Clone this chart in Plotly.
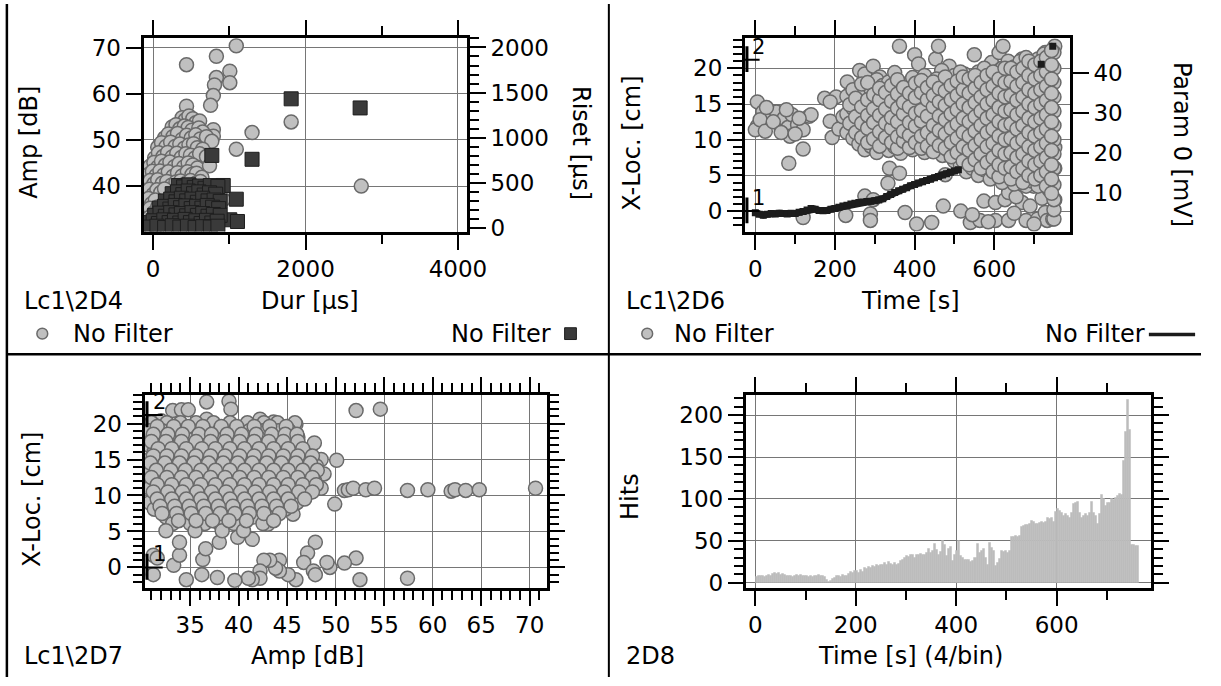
import plotly.graph_objects as go

W, H = 1221, 686
FONT = "DejaVu Sans"

# ---------------- Panel 1 (Lc1\2D4): Amp vs Dur (circles), Riset vs Dur (squares) -------------
p1_circles = [
    (438, 66.3), (830, 68.1), (1091, 70.4), (1006, 64.9), (1006, 62.4), (830, 63.5), (805, 61.9),
    (790, 59.6), (754, 57.5), (438, 57.3), (1298, 51.6), (1811, 53.9), (1091, 48.0), (2731, 40.0),
    (920, 37.1), (790, 52.2), (790, 50.8),
    (380, 54.8), (420, 54.3), (470, 55.2), (520, 54.6), (560, 53.7), (610, 54.1),
    (250, 52.8), (300, 53.3), (350, 52.4), (410, 53.0), (460, 52.7), (510, 52.1), (600, 52.6), (650, 51.7),
    (150, 50.4), (200, 51.3), (260, 50.7), (320, 51.4), (380, 50.1), (440, 51.0), (500, 50.4),
    (560, 51.1), (620, 50.2), (700, 50.7), (770, 49.7),
    (60, 48.4), (110, 49.4), (170, 48.6), (230, 49.5), (290, 48.6), (350, 49.1), (410, 48.2),
    (470, 48.9), (530, 49.2), (580, 48.3), (650, 48.0),
    (20, 46.1), (70, 47.2), (130, 46.4), (190, 47.3), (250, 46.3), (310, 47.1), (370, 46.2),
    (430, 47.0), (490, 46.7), (550, 46.1), (610, 47.0), (700, 46.4),
    (-40, 44.3), (10, 45.1), (60, 44.1), (110, 45.4), (160, 44.5), (220, 45.2), (280, 44.2),
    (340, 44.9), (400, 44.1), (460, 45.0), (520, 44.6), (580, 43.9), (740, 44.4),
    (-60, 42.5), (-10, 43.2), (40, 42.3), (90, 43.3), (140, 42.4), (200, 43.1), (260, 42.1),
    (320, 42.9), (380, 42.2), (450, 43.1), (510, 42.5), (570, 42.8), (640, 41.9),
    (-90, 40.4), (-40, 41.2), (10, 40.5), (60, 41.4), (120, 40.6), (180, 41.0), (240, 40.2),
    (300, 40.9), (360, 41.1), (420, 40.5), (490, 41.2), (560, 40.6), (620, 41.0), (700, 39.4),
    (-100, 38.5), (-50, 39.3), (0, 38.2), (50, 39.2), (100, 38.6), (150, 39.4),
    (-100, 36.5), (-60, 37.3), (-20, 36.2), (30, 37.0), (-90, 34.5), (-40, 35.2), (10, 34.3), (60, 35.5),
    (-100, 32.5), (-50, 33.2), (0, 32.4), (-90, 31.2), (-30, 31.0), (40, 31.3),
]
p1_squares = [
    (1811, 1431), (2716, 1330), (770, 804), (1298, 761), (1091, 319), (920, 471), (754, 435),
    (1006, 91), (1107, 72),
    (330, 470), (400, 455), (470, 478), (540, 450), (610, 465), (680, 440), (750, 470), (850, 460),
    (250, 380), (320, 400), (390, 370), (460, 410), (530, 380), (600, 400), (670, 365), (740, 390), (820, 375),
    (160, 300), (230, 320), (300, 290), (370, 330), (440, 300), (510, 320), (580, 285), (650, 330),
    (720, 300), (800, 310), (880, 295),
    (80, 220), (150, 240), (220, 210), (290, 250), (360, 225), (430, 245), (500, 215), (570, 240),
    (640, 220), (710, 250), (780, 230), (860, 215),
    (20, 140), (90, 165), (160, 130), (230, 170), (300, 145), (370, 160), (440, 135), (510, 170),
    (580, 140), (650, 160), (720, 130), (790, 150), (880, 140),
    (-70, 60), (0, 80), (70, 50), (140, 90), (210, 60), (280, 85), (350, 55), (420, 95), (490, 60),
    (560, 80), (630, 50), (700, 85), (770, 55), (840, 75),
    (-40, 10), (50, 20), (150, 5), (250, 25), (350, 10), (450, 20), (550, 5), (650, 15), (750, 10), (850, 20),
]

# ---------------- Panel 2 (Lc1\2D6): X-Loc vs Time (circles), Param 0 vs Time (line) ---------------
p2_points = [
    (5, 15.3), (5, 11.9), (0, 11.4), (19, 13.9), (34, 13.0), (53, 13.9), (58, 12.3), (72, 13.0),
    (82, 11.7), (87, 10.5), (92, 13.5), (106, 12.1), (120, 11.4), (135, 13.3), (140, 13.5), (120, 8.7),
    (84, 6.7), (12, 12.8), (25, 11.2), (45, 12.5), (65, 11.0), (100, 10.8), (28, 14.5), (78, 14.2),
    (110, 13.0), (174, 15.8), (188, 12.6), (193, 10.3), (203, 16.0), (231, 18.1), (188, 15.3),
    (210, 11.5), (220, 13.2),
    (262, 19.7), (275, 19.2), (296, 20.3), (313, 18.8), (362, 23.1), (400, 21.9), (410, 20.6),
    (453, 21.3), (460, 23.1), (487, 20.3), (468, 19.7), (525, 19.2), (550, 21.9), (593, 20.8),
    (612, 22.2), (622, 23.1), (617, 19.9), (670, 21.3), (699, 20.8), (728, 22.2), (747, 22.2), (752, 23.1),
    (275, 2.1), (296, 1.6), (289, -0.4), (289, -1.3), (227, -0.6), (120, -0.9), (337, 6.0), (362, 5.3),
    (333, 3.9), (376, -0.2), (405, -1.8), (443, -1.6), (472, 0.7), (516, 0.0), (477, 5.1), (540, -1.6),
    (564, -1.3), (574, 1.4), (603, 1.2), (627, 1.6), (636, 2.6), (603, -1.3), (636, -1.3), (670, 1.2),
    (690, 0.7), (680, -1.3), (709, -1.1), (728, -0.2), (733, -1.3), (747, -1.1), (752, 1.6), (747, 3.7),
    (728, 3.5), (752, 6.0), (699, 3.5), (709, 5.1), (660, 4.4), (631, 4.8), (574, 6.2), (593, 4.8),
    (660, 8.0), (690, 6.2), (718, 7.1), (752, 8.9), (545, -0.5), (585, -1.5), (650, -0.3), (700, -1.8),
    (720, 1.8), (655, 2.0),
]
p2_body_t = [230, 245, 260, 275, 290, 305, 320, 335, 350, 365, 380, 395, 410, 425, 440, 455, 470, 485,
             500, 515, 530, 545, 560, 575, 590, 605, 620, 635, 650, 665, 680, 695, 710, 725, 738, 750]
p2_body_xloc = [
    [11.0, 13.6, 16.1],
    [10.2, 12.1, 14.4, 17.0],
    [9.4, 11.6, 13.1, 15.6],
    [8.6, 10.4, 12.6, 14.1, 16.6],
    [9.1, 11.2, 13.4, 15.1, 17.1],
    [8.2, 10.1, 12.2, 14.6, 16.1, 18.4],
    [9.6, 11.3, 13.2, 15.5, 17.6],
    [8.5, 10.6, 12.3, 14.1, 16.4, 18.1],
    [9.0, 11.1, 13.6, 15.1, 17.2, 19.4],
    [8.1, 10.0, 12.1, 14.3, 16.1],
    [9.2, 11.6, 13.1, 15.6, 17.8],
    [8.6, 10.3, 12.6, 14.1, 16.6, 18.7],
    [9.1, 11.0, 13.3, 15.2, 17.3],
    [8.2, 10.1, 12.0, 14.6, 16.1, 19.0],
    [9.6, 11.4, 13.1, 15.3, 17.5],
    [8.7, 10.6, 12.5, 14.1, 16.8, 18.5],
    [7.8, 9.8, 11.6, 13.5, 15.6, 17.5],
    [8.5, 10.3, 12.2, 14.4, 16.2, 18.3],
    [7.0, 9.3, 11.1, 13.0, 15.1, 17.0, 19.0],
    [6.5, 8.2, 10.1, 12.0, 14.1, 16.0, 18.1, 19.5],
    [5.5, 7.5, 9.5, 11.3, 13.3, 15.3, 17.2],
    [6.0, 8.5, 10.5, 12.5, 14.5, 16.5, 18.3],
    [5.0, 7.0, 9.1, 11.0, 13.1, 15.0, 17.1, 19.5],
    [5.8, 8.0, 10.0, 12.1, 14.0, 16.1, 18.0, 20.0],
    [4.5, 6.5, 8.5, 10.5, 12.5, 14.5, 16.5, 18.5],
    [5.5, 7.5, 9.5, 11.5, 13.5, 15.5, 17.5, 19.5],
    [4.0, 6.0, 8.0, 10.0, 12.0, 14.0, 16.0, 18.0, 20.0],
    [5.0, 7.0, 9.0, 11.0, 13.0, 15.0, 17.0, 19.0, 21.0],
    [3.8, 6.0, 8.2, 10.3, 12.3, 14.3, 16.3, 18.3, 20.2],
    [4.5, 6.8, 9.0, 11.0, 13.0, 15.0, 17.0, 19.0, 21.0],
    [3.5, 5.5, 7.5, 9.5, 11.5, 13.5, 15.5, 17.5, 19.5, 21.5],
    [4.2, 6.3, 8.5, 10.5, 12.5, 14.5, 16.5, 18.5, 20.5],
    [3.5, 5.5, 7.5, 9.5, 11.5, 13.5, 15.5, 17.5, 19.5, 21.3],
    [4.5, 6.5, 8.5, 10.5, 12.5, 14.5, 16.5, 18.5, 20.5, 22.0],
    [3.0, 5.0, 7.0, 9.0, 11.0, 13.0, 15.0, 17.0, 19.0, 21.0],
    [-1.1, 0.2, 1.6, 3.7, 6.0, 8.0, 10.0, 12.0, 14.0, 16.0, 18.0, 20.0, 22.2],
]
p2_body2_t = [237, 252, 267, 282, 297, 312, 327, 342, 357, 372, 387, 402, 417, 432, 447, 462, 477, 492,
              507, 522, 537, 552, 567, 582, 597, 612, 627, 642, 657, 672, 687, 702, 717, 731, 744]
p2_body2_xloc = [
    [12.3, 14.9],
    [11.0, 13.2, 15.8],
    [10.3, 12.3, 14.6, 17.8],
    [9.6, 11.6, 13.4, 15.6, 18.0],
    [10.1, 12.4, 14.3, 16.3],
    [9.1, 11.1, 13.4, 15.6, 17.2],
    [10.3, 12.3, 14.3, 16.6],
    [9.6, 11.6, 13.1, 15.4, 17.6],
    [8.8, 10.4, 12.5, 14.4, 16.4, 18.4],
    [9.8, 11.2, 13.6, 15.2, 17.3],
    [8.9, 10.6, 12.4, 14.6, 16.5],
    [9.6, 11.9, 13.7, 15.9, 17.9],
    [8.8, 10.5, 12.6, 14.1, 16.6, 18.3],
    [9.1, 11.0, 13.3, 15.6, 17.3],
    [8.3, 10.1, 12.0, 14.6, 16.2, 18.1],
    [9.2, 11.3, 13.3, 15.3, 17.2],
    [8.8, 10.8, 12.8, 14.8, 16.8, 18.8],
    [7.6, 9.6, 11.6, 13.6, 15.6, 17.6],
    [8.2, 10.2, 12.2, 14.2, 16.2, 18.2],
    [7.0, 9.0, 11.0, 13.0, 15.0, 17.0, 18.8],
    [6.5, 8.5, 10.5, 12.5, 14.5, 16.5, 18.5],
    [7.2, 9.2, 11.2, 13.2, 15.2, 17.2, 19.0],
    [6.0, 8.0, 10.0, 12.0, 14.0, 16.0, 18.0],
    [6.8, 9.0, 11.0, 13.0, 15.0, 17.0, 19.0],
    [5.5, 7.5, 9.5, 11.5, 13.5, 15.5, 17.5, 19.5],
    [4.8, 6.5, 8.5, 10.5, 12.5, 14.5, 16.5, 18.5],
    [6.0, 8.0, 10.0, 12.0, 14.0, 16.0, 18.0, 20.0],
    [4.5, 6.2, 8.2, 10.2, 12.2, 14.2, 16.2, 18.2, 20.0],
    [5.5, 7.5, 9.5, 11.5, 13.5, 15.5, 17.5, 19.5],
    [4.0, 6.0, 8.0, 10.0, 12.0, 14.0, 16.0, 18.0, 20.0],
    [5.0, 7.0, 9.0, 11.0, 13.0, 15.0, 17.0, 19.0, 21.0],
    [4.5, 6.5, 8.5, 10.5, 12.5, 14.5, 16.5, 18.5, 20.5],
    [5.0, 7.0, 9.0, 11.0, 13.0, 15.0, 17.0, 19.0, 21.0],
    [3.5, 5.5, 7.5, 9.5, 11.5, 13.5, 15.5, 17.5, 19.5, 21.5],
    [2.5, 4.5, 6.5, 8.5, 10.5, 12.5, 14.5, 16.5, 18.5, 20.5, 22.5],
]
p2_line_time = [0, 10, 20, 30, 40, 50, 60, 70, 80, 90, 100, 110, 120, 130, 140, 150, 160, 170, 180, 190,
                200, 210, 220, 230, 240, 250, 260, 270, 280, 290, 300, 310, 320, 330, 340, 350, 360, 370,
                380, 390, 400, 410, 420, 430, 440, 450, 460, 470, 480, 490, 500, 510, None, 718, None, 747]
p2_line_param = [5.0, 4.6, 4.4, 4.6, 4.8, 4.7, 4.9, 4.8, 4.7, 4.9, 4.8, 5.1, 5.3, 5.7, 6.1, 5.9, 5.6, 5.5,
                 5.6, 5.9, 6.1, 6.4, 6.7, 6.9, 7.2, 7.4, 7.6, 7.7, 7.8, 7.9, 8.0, 8.2, 8.5, 9.1, 9.6, 10.1,
                 10.5, 10.9, 11.3, 11.8, 12.1, 12.5, 12.8, 13.1, 13.4, 13.8, 14.1, 14.5, 14.8, 15.2, 15.5,
                 15.8, None, 42.3, None, 46.8]
sensor_xloc = [0.0, 21.2]
sensor_names = ["1", "2"]

# ---------------- Panel 3 (Lc1\2D7): X-Loc vs Amp ----------------
p3_points = [
    (52.1, 21.8), (54.6, 22.0), (47.8, 17.3), (50.1, 14.9), (49.9, 8.8), (50.9, 10.7), (51.3, 10.8),
    (51.8, 11.0), (53.1, 10.8), (54.0, 11.0), (57.4, 10.7), (59.5, 10.8), (61.9, 10.6), (62.3, 10.8),
    (63.4, 10.7), (64.8, 10.8), (70.6, 11.0),
    (52.1, 1.3), (50.9, 0.6), (52.5, -1.7), (57.4, -1.5), (49.4, 0.0), (49.1, 0.7), (47.9, 3.5),
    (47.1, 2.0), (46.7, 0.7), (47.7, -0.5), (47.9, -1.0), (45.9, -1.7), (45.1, -1.0), (44.2, 1.0),
    (44.2, -0.5), (43.8, -0.1), (43.2, 1.0), (42.6, 1.0), (42.2, -0.5), (42.2, -1.5), (41.4, -1.7),
    (41.0, -1.5), (39.6, -1.8), (37.8, -1.4), (36.2, -1.0), (36.3, 1.1), (36.6, 2.6), (34.6, -1.7),
    (33.3, 0.3), (33.9, 1.7), (33.9, 3.5), (31.2, 1.7), (31.2, -1.0), (31.6, 1.3), (38.0, 3.5),
    (41.4, 3.9), (43.0, 6.0), (39.9, 4.2), (45.6, 7.4),
    (36.7, 23.0), (39.0, 23.1), (39.2, 22.0), (33.2, 21.8), (34.1, 21.9), (34.8, 21.9), (42.2, 20.6),
    (43.6, 20.2), (45.9, 19.9), (32.0, 20.4), (31.2, 19.9), (36.7, 20.6),
]
p3_rows_xloc = [20.1, 19.0, 18.1, 17.0, 16.1, 15.0, 14.1, 13.0, 12.1, 11.0, 10.1, 9.0, 8.1, 7.0, 6.1, 5.1,
                19.6, 18.5, 17.5, 16.5, 15.5, 14.5, 13.5, 12.5, 11.5, 10.5, 9.5, 8.5, 7.5, 6.5]
p3_rows_amp = [
    [31.0, 32.6, 34.0, 35.6, 37.4, 39.1, 40.9, 42.6, 44.0, 45.8],
    [30.8, 32.1, 33.5, 35.1, 36.5, 38.0, 39.6, 41.1, 42.5, 44.1, 45.2],
    [31.5, 33.0, 34.6, 36.1, 37.5, 39.0, 40.4, 42.0, 43.6, 45.0, 46.1],
    [30.7, 32.2, 33.8, 35.3, 36.9, 38.3, 39.8, 41.3, 42.9, 44.3, 45.8],
    [31.3, 32.8, 34.3, 35.8, 37.3, 38.8, 40.3, 41.8, 43.3, 44.8, 46.3],
    [30.8, 32.3, 33.8, 35.3, 36.8, 38.3, 39.8, 41.3, 42.8, 44.3, 45.8, 47.3, 48.5],
    [31.5, 33.0, 34.5, 36.0, 37.5, 39.0, 40.5, 42.0, 43.5, 45.0, 46.5, 48.0],
    [30.8, 32.3, 33.8, 35.3, 36.8, 38.3, 39.8, 41.3, 42.8, 44.3, 45.8, 47.3, 48.8],
    [31.3, 32.8, 34.3, 35.8, 37.3, 38.8, 40.3, 41.8, 43.3, 44.8, 46.3, 47.8],
    [30.8, 32.3, 33.8, 35.3, 36.8, 38.3, 39.8, 41.3, 42.8, 44.3, 45.8, 47.3, 48.5],
    [31.5, 33.0, 34.5, 36.0, 37.5, 39.0, 40.5, 42.0, 43.5, 45.0, 46.5],
    [30.8, 32.3, 33.8, 35.3, 36.8, 38.3, 39.8, 41.3, 42.8, 44.3, 46.0],
    [31.3, 32.8, 34.3, 35.8, 37.3, 38.8, 40.3, 41.8, 43.3, 44.8],
    [32.5, 34.0, 35.5, 37.0, 38.5, 40.0, 41.5, 43.0],
    [33.2, 35.0, 36.5, 38.0, 39.5, 42.5],
    [32.5, 35.5, 38.3, 40.5],
    [31.6, 33.3, 34.8, 36.3, 38.2, 39.8, 41.6, 43.2, 44.9],
    [31.2, 32.7, 34.2, 35.9, 37.2, 38.8, 40.3, 41.8, 43.4, 44.8, 46.0],
    [31.0, 32.5, 34.1, 35.6, 37.1, 38.6, 40.1, 41.6, 43.1, 44.6, 46.1],
    [31.7, 33.1, 34.6, 36.2, 37.6, 39.1, 40.6, 42.1, 43.6, 45.1, 46.6],
    [31.2, 32.6, 34.1, 35.6, 37.1, 38.6, 40.1, 41.6, 43.1, 44.6, 46.1, 47.6],
    [30.9, 32.4, 33.9, 35.4, 36.9, 38.4, 39.9, 41.4, 42.9, 44.4, 45.9, 47.4],
    [31.5, 33.0, 34.5, 36.1, 37.6, 39.1, 40.6, 42.1, 43.6, 45.1, 46.6, 48.1],
    [31.0, 32.6, 34.1, 35.6, 37.1, 38.6, 40.1, 41.6, 43.1, 44.6, 46.1, 47.6],
    [31.6, 33.1, 34.6, 36.1, 37.6, 39.1, 40.6, 42.1, 43.6, 45.1, 46.6, 48.0],
    [31.2, 32.7, 34.2, 35.7, 37.2, 38.7, 40.2, 41.7, 43.2, 44.7, 46.2, 47.6],
    [31.6, 33.1, 34.6, 36.1, 37.6, 39.1, 40.6, 42.1, 43.6, 45.1, 46.8],
    [31.9, 33.4, 34.9, 36.4, 37.9, 39.4, 40.9, 42.4, 43.9, 45.4],
    [32.1, 33.6, 35.1, 36.6, 38.1, 39.6, 41.1, 42.6, 44.2],
    [33.8, 35.6, 37.3, 39.0, 40.8, 43.6],
]

# ---------------- Panel 4 (2D8): Hits vs Time, 4 s per bin ----------------
bin_width = 4
hits = [
    7, 9, 8, 9, 7, 8, 10, 9, 11, 12, 11, 12, 10, 11, 10, 9, 8, 9, 7, 8,          # 0-76
    10, 9, 10, 9, 8, 9, 7, 8, 7, 8, 9, 10, 9, 8, 7, 4, 1, 3, 5, 6,               # 80-156
    8, 9, 7, 10, 9, 8, 11, 13, 12, 15, 14, 12, 16, 13, 18, 17, 19, 18, 20, 19,   # 160-236
    21, 20, 22, 21, 24, 22, 25, 23, 21, 24, 22, 23, 26, 28, 30, 32, 31, 33, 34, 30,  # 240-316
    33, 34, 35, 33, 34, 36, 41, 36, 38, 47, 40, 34, 37, 50, 45, 32, 41, 43, 26, 34,  # 320-396
    38, 50, 32, 30, 28, 27, 28, 25, 26, 30, 47, 36, 38, 41, 30, 22, 48, 42, 38, 20,  # 400-476
    24, 29, 38, 37, 38, 36, 38, 55, 55, 56, 55, 56, 67, 68, 69, 69, 70, 74, 73, 71,  # 480-556
    71, 72, 73, 72, 73, 78, 77, 78, 73, 85, 88, 86, 84, 80, 82, 80, 78, 84, 94, 96,  # 560-636
    97, 84, 78, 80, 82, 80, 83, 97, 84, 80, 70, 82, 105, 100, 92, 96, 95, 100, 99, 101,  # 640-716
    104, 106, 105, 146, 180, 218, 183, 46, 45, 44, 44,                                   # 720-760
]
hist_t = [i * bin_width + bin_width / 2 for i in range(len(hits))]

# ---------------- helpers ----------------
def unzip(pairs):
    return [p[0] for p in pairs], [p[1] for p in pairs]


def expand(keys, groups, keys_first=True):
    xs, ys = [], []
    for k, g in zip(keys, groups):
        for v in g:
            if keys_first:
                xs.append(k)
                ys.append(v)
            else:
                xs.append(v)
                ys.append(k)
    return xs, ys


p1_dur, p1_amp = unzip(p1_circles)
p1_sq_dur, p1_sq_riset = unzip(p1_squares)
p2_t, p2_x = unzip(p2_points)
for keys, groups in ((p2_body_t, p2_body_xloc), (p2_body2_t, p2_body2_xloc)):
    a, b = expand(keys, groups)
    p2_t += a
    p2_x += b
p3_a, p3_x = unzip(p3_points)
a, b = expand(p3_rows_xloc, p3_rows_amp, keys_first=False)
p3_a += a
p3_x += b

CIRC = dict(symbol="circle", size=14, color="#C0C0C0", line=dict(color="#6A6A6A", width=1.5))
SQ = dict(symbol="square", size=14, color="#3A3A3A", line=dict(color="#1E1E1E", width=1))
GRID = "#767676"
tickfont = dict(family=FONT, size=23, color="black")


def fx(px):
    return px / W


def fy(py):
    return 1 - py / H


def xax(dom, rng, dtick, minor, anchor):
    d = dict(domain=dom, range=rng, dtick=dtick, tick0=0, ticks="outside", ticklen=15, tickwidth=2,
             tickcolor="black", showline=True, linewidth=3, linecolor="black", mirror="ticks",
             showgrid=True, gridcolor=GRID, gridwidth=1, zeroline=False, tickfont=tickfont,
             anchor=anchor, fixedrange=True)
    if minor:
        d["minor"] = dict(dtick=minor, tick0=0, ticks="outside", ticklen=9, tickwidth=2,
                          tickcolor="black", showgrid=False)
    return d


def yax(dom, rng, dtick, minor, anchor, mirror, grid=True, side="left", overlaying=None):
    d = dict(domain=dom, range=rng, dtick=dtick, tick0=0, ticks="outside", ticklen=15, tickwidth=2,
             tickcolor="black", showline=True, linewidth=3, linecolor="black", mirror=mirror,
             showgrid=grid, gridcolor=GRID, gridwidth=1, zeroline=False, tickfont=tickfont,
             anchor=anchor, side=side, fixedrange=True)
    if overlaying:
        d["overlaying"] = overlaying
    if minor:
        d["minor"] = dict(dtick=minor, tick0=0, ticks="outside", ticklen=9, tickwidth=2,
                          tickcolor="black", showgrid=False)
    return d


fig = go.Figure()
fig.add_trace(go.Scatter(x=p1_dur, y=p1_amp, mode="markers", marker=CIRC, xaxis="x", yaxis="y"))
fig.add_trace(go.Scatter(x=p1_sq_dur, y=p1_sq_riset, mode="markers", marker=SQ, xaxis="x", yaxis="y2"))
fig.add_trace(go.Scatter(x=p2_t, y=p2_x, mode="markers", marker=CIRC, xaxis="x2", yaxis="y3"))
fig.add_trace(go.Scatter(x=p2_line_time, y=p2_line_param, mode="lines+markers",
                         line=dict(color="#1C1C1C", width=7),
                         marker=dict(symbol="square", size=7, color="#1C1C1C"),
                         connectgaps=False, xaxis="x2", yaxis="y4"))
fig.add_trace(go.Scatter(x=p3_a, y=p3_x, mode="markers", marker=CIRC, xaxis="x3", yaxis="y5"))
fig.add_trace(go.Bar(x=hist_t, y=hits, width=bin_width, marker=dict(color="#BDBDBD",
                     line=dict(color="#BDBDBD", width=0.5)), xaxis="x4", yaxis="y6"))

d1x = [fx(146), fx(474.6)]
d1y = [fy(232), fy(35)]
d2x = [fx(757.4), fx(1087.7)]
d3x = [fx(147), fx(556.3)]
d3y = [fy(595), fy(398.3)]
d4x = [fx(758.2), fx(1169.7)]

fig.update_layout(
    xaxis=xax(d1x, [-125, 4116], 2000, 1000, "y"),
    yaxis=yax(d1y, [30.15, 72], 10, None, "x", True),
    yaxis2=yax(d1y, [-40, 2101], 500, 100, "x", False, grid=False, side="right", overlaying="y"),
    xaxis2=xax(d2x, [-26, 790], 200, 100, "y3"),
    yaxis3=yax(d1y, [-2.87, 24.2], 5, 1, "x2", True),
    yaxis4=yax(d1y, [0.27, 48.8], 10, None, "x2", False, grid=False, side="right", overlaying="y3"),
    xaxis3=xax(d3x, [30.3, 71.8], 5, 1, "y5"),
    yaxis5=yax(d3y, [-2.82, 24.0], 5, 1, "x3", "ticks"),
    xaxis4=xax(d4x, [-19, 787], 200, 100, "y6"),
    yaxis6=yax(d3y, [-5.8, 224.2], 50, 10, "x4", "ticks"),
)
fig.layout.yaxis2.ticklen = 16
fig.layout.yaxis4.ticklen = 16


def ann(text, x, y, angle=0, xanchor="center", size=24):
    return dict(text=text, x=fx(x), y=fy(y), xref="paper", yref="paper", showarrow=False,
                textangle=angle, xanchor=xanchor, yanchor="middle",
                font=dict(family=FONT, size=size, color="black"))


annotations = [
    ann("Amp [dB]", 30, 141, -90),
    ann("Riset [\u00b5s]", 590, 142, 90),
    ann("Dur [\u00b5s]", 315, 303),
    ann("Lc1\\2D4", 22, 303, xanchor="left"),
    ann("No Filter", 72, 336, xanchor="left"),
    ann("No Filter", 562, 336, xanchor="right"),
    ann("X-Loc. [cm]", 643, 142, -90),
    ann("Param 0 [mV]", 1201, 143, 90),
    ann("Time [s]", 926, 303),
    ann("Lc1\\2D6", 634, 303, xanchor="left"),
    ann("No Filter", 683, 336, xanchor="left"),
    ann("No Filter", 1166, 336, xanchor="right"),
    ann("X-Loc. [cm]", 33, 505, -90),
    ann("Amp [dB]", 313, 665),
    ann("Lc1\\2D7", 22, 665, xanchor="left"),
    ann("Hits", 641, 502, -90),
    ann("Time [s] (4/bin)", 926, 665),
    ann("2D8", 634, 665, xanchor="left"),
]
# sensor labels (data positions)
for name, pos in zip(sensor_names, sensor_xloc):
    for xr, yr in (("x2 domain", "y3"), ("x3 domain", "y5")):
        annotations.append(dict(text=name, x=0.015, y=pos + 1.8, xref=xr, yref=yr, showarrow=False,
                                xanchor="left", yanchor="middle",
                                font=dict(family=FONT, size=21, color="black")))
fig.update_layout(annotations=annotations)

shapes = [
    dict(type="line", xref="paper", yref="paper", x0=fx(7), x1=fx(7), y0=0, y1=1,
         line=dict(color="black", width=2.5)),
    dict(type="line", xref="paper", yref="paper", x0=fx(619), x1=fx(619), y0=0, y1=1,
         line=dict(color="black", width=2)),
    dict(type="line", xref="paper", yref="paper", x0=fx(7), x1=1, y0=fy(357), y1=fy(357),
         line=dict(color="black", width=2.5)),
    # legend symbols
    dict(type="circle", xref="paper", yref="paper", x0=fx(37.5), x1=fx(48.5), y0=fy(341.5), y1=fy(330.5),
         fillcolor="#C0C0C0", line=dict(color="#6A6A6A", width=1.5)),
    dict(type="rect", xref="paper", yref="paper", x0=fx(574), x1=fx(586), y0=fy(342), y1=fy(330),
         fillcolor="#3A3A3A", line=dict(color="#1E1E1E", width=1)),
    dict(type="circle", xref="paper", yref="paper", x0=fx(652.5), x1=fx(663.5), y0=fy(341.5), y1=fy(330.5),
         fillcolor="#C0C0C0", line=dict(color="#6A6A6A", width=1.5)),
    dict(type="line", xref="paper", yref="paper", x0=fx(1168), x1=fx(1215), y0=fy(337), y1=fy(337),
         line=dict(color="#1C1C1C", width=3.5)),
]
# sensor markers at the left edge
for pos in sensor_xloc:
    for xr, yr in (("x2 domain", "y3"), ("x3 domain", "y5")):
        shapes.append(dict(type="line", xref=xr, yref=yr, x0=0.006, x1=0.006, y0=pos - 1.7, y1=pos + 1.9,
                           line=dict(color="black", width=3)))
        shapes.append(dict(type="line", xref=xr, yref=yr, x0=0.0, x1=0.045, y0=pos, y1=pos,
                           line=dict(color="black", width=2)))
fig.update_layout(shapes=shapes)

fig.update_layout(width=W, height=H, margin=dict(l=0, r=0, t=0, b=0, pad=0),
                  paper_bgcolor="white", plot_bgcolor="white", showlegend=False,
                  hovermode=False, bargap=0)

fig.write_html("out.html")
